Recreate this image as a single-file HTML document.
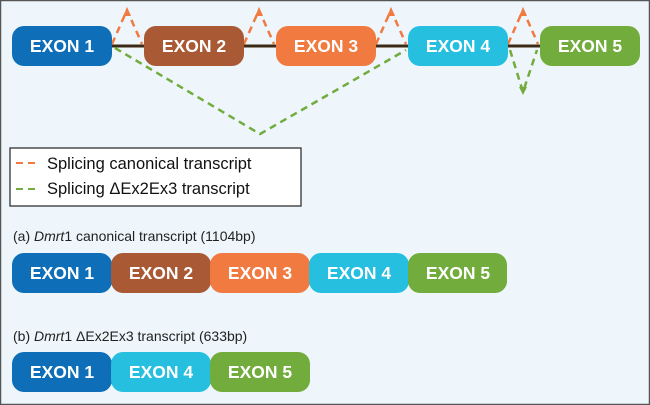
<!DOCTYPE html>
<html><head><style>
html,body{margin:0;padding:0;background:#eef6fb;}
svg{display:block;}
text{font-family:"Liberation Sans",Arial,sans-serif;}
.ex{font-weight:bold;font-size:17.5px;fill:#fff;text-anchor:middle;}
</style></head><body>
<svg width="650" height="405" viewBox="0 0 650 405">
<rect x="0.5" y="0.5" width="649" height="404" fill="#eef6fb" stroke="#555" stroke-width="1.5"/>
<line x1="110" y1="46" x2="545" y2="46" stroke="#3d2a14" stroke-width="3"/>
<g fill="none" stroke-width="2.5" stroke-dasharray="7,5">
<polyline points="112,44 127,10 142,44" stroke="#f07a40"/>
<polyline points="244,44 259,10 274,44" stroke="#f07a40"/>
<polyline points="376,44 391,10 406,44" stroke="#f07a40"/>
<polyline points="508,44 523,10 538,44" stroke="#f07a40"/>
<polyline points="115,48 260,134 406,50" stroke="#71ac3c"/>
<polyline points="510,50 523,92 537,50" stroke="#71ac3c"/>
</g>
<g fill="#f07a40">
<polygon points="127,8 123,16 131,16"/><polygon points="259,8 255,16 263,16"/>
<polygon points="391,8 387,16 395,16"/><polygon points="523,8 519,16 527,16"/>
</g>
<polygon points="523,95 519,87 527,87" fill="#71ac3c"/>
<g>
<rect x="12" y="26" width="100" height="40" rx="12" fill="#0e6fb8"/><text class="ex" x="62" y="52">EXON 1</text>
<rect x="144" y="26" width="100" height="40" rx="12" fill="#a95a35"/><text class="ex" x="194" y="52">EXON 2</text>
<rect x="276" y="26" width="100" height="40" rx="12" fill="#f07a40"/><text class="ex" x="326" y="52">EXON 3</text>
<rect x="408" y="26" width="100" height="40" rx="12" fill="#26bfe0"/><text class="ex" x="458" y="52">EXON 4</text>
<rect x="540" y="26" width="100" height="40" rx="12" fill="#71ac3c"/><text class="ex" x="590" y="52">EXON 5</text>
</g>
<rect x="10" y="148" width="291" height="58" fill="#fff" stroke="#222" stroke-width="1.2"/>
<line x1="16" y1="163" x2="40" y2="163" stroke="#f07a40" stroke-width="2" stroke-dasharray="7,5"/>
<line x1="16" y1="189" x2="40" y2="189" stroke="#71ac3c" stroke-width="2" stroke-dasharray="7,5"/>
<text x="47" y="169" font-size="16.5" fill="#111">Splicing canonical transcript</text>
<text x="47" y="194" font-size="16.5" fill="#111">Splicing ΔEx2Ex3 transcript</text>
<text x="13" y="241" font-size="14" fill="#222">(a) <tspan font-style="italic">Dmrt</tspan>1 canonical transcript (1104bp)</text>
<g>
<rect x="12" y="253" width="100" height="40" rx="12" fill="#0e6fb8"/>
<rect x="111" y="253" width="100" height="40" rx="12" fill="#a95a35"/>
<rect x="210" y="253" width="100" height="40" rx="12" fill="#f07a40"/>
<rect x="309" y="253" width="100" height="40" rx="12" fill="#26bfe0"/>
<rect x="408" y="253" width="99" height="40" rx="12" fill="#71ac3c"/>
<text class="ex" x="62" y="279">EXON 1</text><text class="ex" x="161" y="279">EXON 2</text><text class="ex" x="260" y="279">EXON 3</text><text class="ex" x="359" y="279">EXON 4</text><text class="ex" x="458" y="279">EXON 5</text>
</g>
<text x="13" y="341" font-size="14" fill="#222">(b) <tspan font-style="italic">Dmrt</tspan>1 ΔEx2Ex3 transcript (633bp)</text>
<g>
<rect x="12" y="352" width="100" height="40" rx="12" fill="#0e6fb8"/>
<rect x="111" y="352" width="100" height="40" rx="12" fill="#26bfe0"/>
<rect x="210" y="352" width="100" height="40" rx="12" fill="#71ac3c"/>
<text class="ex" x="62" y="378">EXON 1</text><text class="ex" x="161" y="378">EXON 4</text><text class="ex" x="260" y="378">EXON 5</text>
</g>
</svg>
</body></html>
